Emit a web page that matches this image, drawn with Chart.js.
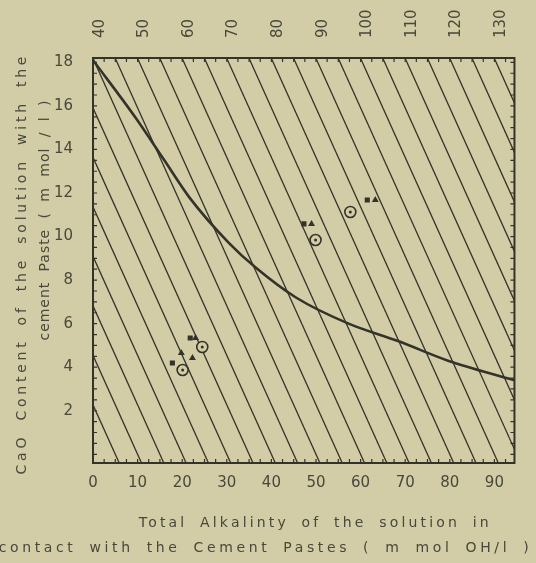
<!DOCTYPE html>
<html><head><meta charset="utf-8">
<script src="https://cdn.jsdelivr.net/npm/chart.js@4.4.0/dist/chart.umd.min.js"></script>
<style>html,body{margin:0;padding:0;background:#d2cda6;}#wrap{width:536px;height:563px;}</style>
</head><body><div id="wrap"><canvas id="c" width="536" height="563"></canvas></div>
<script>
// ---- data ----
const bottomTicks = [0, 10, 20, 30, 40, 50, 60, 70, 80, 90];
const topTicks = [40, 50, 60, 70, 80, 90, 100, 110, 120, 130];
const yTicks = [2, 4, 6, 8, 10, 12, 14, 16, 18];
// hatch iso-lines (intercept on the lower scale, slope factor K)
const hatchLevels = [5, 10, 15, 20, 25, 30, 35, 40, 45, 50, 55, 60, 65, 70, 75, 80, 85, 90, 95, 100, 105, 110, 115, 120, 125, 130];
const K = 2.2;
// solubility curve
const curveX = [0, 9.4, 16, 21.6, 30.5, 36.6, 45.5, 57.3, 68.4, 79.6, 94.5];
const curveY = [18.1, 15.5, 13.5, 11.8, 9.7, 8.55, 7.2, 6.0, 5.2, 4.3, 3.4];
// measured points
const circleX = [49.9, 57.7, 24.5, 20.1];
const circleY = [9.84, 11.13, 4.93, 3.87];
const squareX = [47.3, 61.5, 21.8, 17.8];
const squareY = [10.58, 11.68, 5.34, 4.19];
const triX = [49.0, 63.3, 23.0, 22.3, 19.8];
const triY = [10.58, 11.68, 5.34, 4.42, 4.65];

const X_MIN = 0, X_MAX = 94.5, Y_MIN = -0.4, Y_MAX = 18.2, TOP_AT_X0 = 38.5;

const INK = '#33332a';
const TXT = '#48483b';
const BG = '#d2cda6';

const pts = (xs, ys) => xs.map((x, i) => ({x, y: ys[i]}));

const hatchSets = hatchLevels.map(c => ({
  type: 'line',
  data: [{x: c - K * Y_MAX, y: Y_MAX}, {x: c - K * Y_MIN, y: Y_MIN}],
  borderColor: INK, borderWidth: 1.3, pointRadius: 0, clip: 0, order: 5
}));

// per-line layout of axis titles: offset across the axis, shift along it, target width
const xTitleLayout = [{across: 60, along: 10, width: 350}, {across: 85, along: -40, width: 530}];
const yTitleLayout = [{across: 22, along: 5, width: 418}, {across: 45, along: -40, width: 240}];

function customTitle(scale, layout) {
  if (scale._patched) return;
  scale._patched = true;
  scale.drawTitle = function () {
    const t = this.options.title;
    if (!t.display) return;
    const ctx = this.ctx;
    const font = Chart.helpers.toFont(t.font);
    const horiz = this.isHorizontal();
    const lines = Array.isArray(t.text) ? t.text : [t.text];
    lines.forEach((line, i) => {
      const L = layout[i];
      ctx.save();
      ctx.font = font.string;
      ctx.fillStyle = t.color;
      ctx.textAlign = 'center';
      ctx.textBaseline = 'middle';
      ctx.letterSpacing = '0px';
      ctx.wordSpacing = '5px';
      const w = ctx.measureText(line).width;
      const ls = Math.max(0, (L.width - w) / Math.max(1, line.length - 1));
      ctx.letterSpacing = ls.toFixed(2) + 'px';
      if (horiz) {
        ctx.translate((this.left + this.right) / 2 + L.along, this.top + L.across);
      } else {
        ctx.translate(this.left + L.across, (this.top + this.bottom) / 2 + L.along);
        ctx.rotate(-Math.PI / 2);
      }
      ctx.fillText(line, ls / 2, 0);
      ctx.restore();
    });
  };
}

// upper scale labels, drawn rotated (reading upward) at the upper scale's tick positions
function rotatedTopLabels(scale) {
  if (scale._patchedLabels) return;
  scale._patchedLabels = true;
  scale.drawLabels = function () {
    const ctx = this.ctx;
    const opts = this.options.ticks;
    const font = Chart.helpers.toFont(opts.font);
    ctx.save();
    ctx.font = font.string;
    ctx.fillStyle = opts.color;
    ctx.textAlign = 'left';
    ctx.textBaseline = 'middle';
    this.ticks.forEach(t => {
      const px = this.getPixelForValue(t.value);
      ctx.save();
      ctx.translate(px, this.bottom - opts.padding);
      ctx.rotate(-Math.PI / 2);
      ctx.fillText(String(t.value), 0, 0);
      ctx.restore();
    });
    ctx.restore();
  };
}

const frame = {
  id: 'frame',
  beforeDraw(chart) {
    const ctx = chart.ctx;
    ctx.save();
    ctx.fillStyle = BG;
    ctx.fillRect(0, 0, chart.width, chart.height);
    ctx.restore();
  },
  afterDraw(chart) {
    const {ctx, chartArea: a, scales} = chart;
    ctx.save();
    ctx.strokeStyle = INK;
    ctx.lineWidth = 1.2;
    const L = 4;
    ctx.beginPath();
    for (let v = X_MIN; v <= X_MAX; v += 2.5) {
      const px = scales.x.getPixelForValue(v);
      ctx.moveTo(px, a.bottom); ctx.lineTo(px, a.bottom - L);
      ctx.moveTo(px, a.top); ctx.lineTo(px, a.top + L);
    }
    for (let v = 0; v <= Y_MAX; v += 0.5) {
      const py = scales.y.getPixelForValue(v);
      ctx.moveTo(a.left, py); ctx.lineTo(a.left + L, py);
      ctx.moveTo(a.right, py); ctx.lineTo(a.right - L, py);
    }
    ctx.stroke();
    ctx.lineWidth = 2;
    ctx.strokeRect(a.left, a.top, a.right - a.left, a.bottom - a.top);
    ctx.restore();
  }
};

const tickFont = {family: 'DejaVu Sans', size: 15};
const titleFont = {family: 'DejaVu Sans', size: 14};

new Chart(document.getElementById('c'), {
  type: 'scatter',
  data: {
    datasets: [
      ...hatchSets,
      {type: 'line', data: pts(curveX, curveY), borderColor: INK, borderWidth: 2.6,
       pointRadius: 0, cubicInterpolationMode: 'monotone', clip: 0, order: 4},
      {data: pts(circleX, circleY), pointStyle: 'circle', pointRadius: 5.5, backgroundColor: BG,
       borderColor: INK, borderWidth: 1.6, order: 3},
      {data: pts(circleX, circleY), pointStyle: 'circle', pointRadius: 1.5, backgroundColor: INK,
       borderColor: INK, borderWidth: 0, order: 2},
      {data: pts(squareX, squareY), pointStyle: 'rect', pointRadius: 3.6, backgroundColor: INK,
       borderColor: INK, borderWidth: 0, order: 1},
      {data: pts(triX, triY), pointStyle: 'triangle', pointRadius: 4, backgroundColor: INK,
       borderColor: INK, borderWidth: 0, order: 1}
    ]
  },
  options: {
    responsive: false, animation: false, events: [],
    layout: {padding: {left: 0, right: 19, top: 0, bottom: 0}},
    plugins: {legend: {display: false}, tooltip: {enabled: false}},
    scales: {
      x: {
        type: 'linear', position: 'bottom', min: X_MIN, max: X_MAX,
        afterBuildTicks: s => { s.ticks = bottomTicks.map(v => ({value: v})); },
        afterFit: s => { s.height = 100; customTitle(s, xTitleLayout); },
        grid: {display: false}, border: {display: false},
        ticks: {font: tickFont, color: TXT, padding: 3, maxRotation: 0, autoSkip: false},
        title: {display: true, color: TXT, font: titleFont,
                text: ['Total Alkalinty of the solution in', 'contact with the Cement Pastes ( m mol OH/l )']}
      },
      x2: {
        type: 'linear', position: 'top', min: X_MIN + TOP_AT_X0, max: X_MAX + TOP_AT_X0,
        afterBuildTicks: s => { s.ticks = topTicks.map(v => ({value: v})); },
        afterFit: s => { s.height = 58; rotatedTopLabels(s); },
        grid: {display: false}, border: {display: false},
        ticks: {font: tickFont, color: TXT, padding: 20, autoSkip: false}
      },
      y: {
        type: 'linear', position: 'left', min: Y_MIN, max: Y_MAX,
        afterBuildTicks: s => { s.ticks = yTicks.map(v => ({value: v})); },
        afterFit: s => { s.width = 93; customTitle(s, yTitleLayout); },
        grid: {display: false}, border: {display: false},
        ticks: {font: tickFont, color: TXT, padding: 12, autoSkip: false},
        title: {display: true, color: TXT, font: titleFont,
                text: ['CaO Content of the solution with the', 'cement Paste ( m mol / l )']}
      }
    }
  },
  plugins: [frame]
});
</script>
</body></html>
